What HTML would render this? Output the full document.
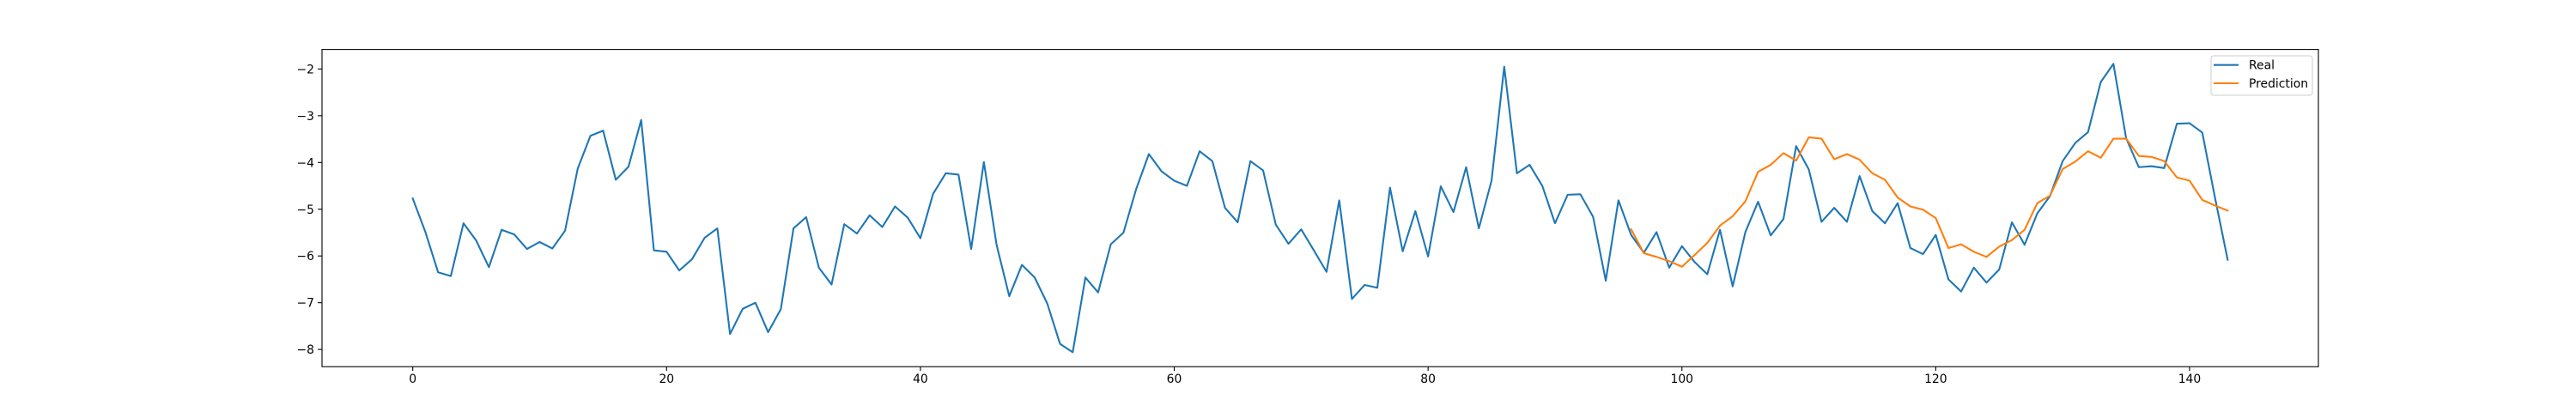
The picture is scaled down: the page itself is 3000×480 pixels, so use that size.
<!DOCTYPE html>
<html><head><meta charset="utf-8"><style>
html,body{margin:0;padding:0;background:#fff;}
svg{display:block;font-family:"DejaVu Sans","Liberation Sans",sans-serif;}
</style></head><body>
<svg id="chart" width="3000" height="480" viewBox="0 0 3000 480" xmlns="http://www.w3.org/2000/svg">
<rect width="3000" height="480" fill="#fff"/>
<g id="axes"></g>
</svg>
<script>
const realValues = [-4.77,-5.49,-6.35,-6.43,-5.30,-5.67,-6.24,-5.44,-5.54,-5.85,-5.70,-5.84,-5.46,-4.13,-3.43,-3.32,-4.37,-4.09,-3.09,-5.88,-5.91,-6.31,-6.07,-5.61,-5.41,-7.67,-7.13,-7.00,-7.63,-7.14,-5.41,-5.17,-6.25,-6.61,-5.32,-5.52,-5.13,-5.38,-4.94,-5.18,-5.62,-4.67,-4.23,-4.26,-5.85,-3.99,-5.76,-6.86,-6.19,-6.46,-7.02,-7.88,-8.06,-6.46,-6.78,-5.75,-5.50,-4.57,-3.82,-4.19,-4.39,-4.50,-3.76,-3.97,-4.97,-5.28,-3.97,-4.17,-5.33,-5.74,-5.43,-5.88,-6.34,-4.81,-6.92,-6.62,-6.68,-4.54,-5.90,-5.04,-6.01,-4.51,-5.06,-4.10,-5.41,-4.39,-1.95,-4.23,-4.05,-4.50,-5.30,-4.69,-4.68,-5.16,-6.53,-4.81,-5.55,-5.93,-5.49,-6.25,-5.79,-6.13,-6.39,-5.44,-6.65,-5.49,-4.84,-5.56,-5.21,-3.65,-4.15,-5.27,-4.97,-5.27,-4.29,-5.04,-5.30,-4.87,-5.83,-5.96,-5.55,-6.50,-6.76,-6.25,-6.57,-6.29,-5.28,-5.76,-5.09,-4.72,-3.97,-3.58,-3.35,-2.28,-1.89,-3.48,-4.10,-4.08,-4.12,-3.17,-3.16,-3.36,-4.75,-6.08];
const predStart = 96;
const predValues = [-5.43,-5.94,-6.02,-6.11,-6.23,-5.98,-5.72,-5.35,-5.15,-4.83,-4.20,-4.05,-3.80,-3.96,-3.46,-3.49,-3.93,-3.82,-3.94,-4.23,-4.37,-4.75,-4.94,-5.01,-5.19,-5.83,-5.75,-5.91,-6.02,-5.80,-5.66,-5.44,-4.87,-4.71,-4.14,-3.98,-3.76,-3.90,-3.49,-3.49,-3.86,-3.88,-3.97,-4.32,-4.39,-4.80,-4.92,-5.03];
const xTicks = [0,20,40,60,80,100,120,140];
const yTicks = [-2,-3,-4,-5,-6,-7,-8];
const seriesNames = ["Real","Prediction"];

const NS="http://www.w3.org/2000/svg";
const L=375,R=2700,T=57.6,B=427.2;
const n=realValues.length;
const xmin=-(n-1)*0.05, xmax=(n-1)*1.05;
const allV=realValues.concat(predValues);
const vmin=Math.min(...allV), vmax=Math.max(...allV), vr=vmax-vmin;
const ymin=vmin-0.05*vr, ymax=vmax+0.05*vr;
const sx=v=>L+(v-xmin)/(xmax-xmin)*(R-L);
const sy=v=>B-(v-ymin)/(ymax-ymin)*(B-T);
const g=document.getElementById('axes');
function mk(tag,attrs){const e=document.createElementNS(NS,tag);for(const k in attrs)e.setAttribute(k,attrs[k]);g.appendChild(e);return e;}

function linePath(vals,start){return vals.map((v,i)=>(i?'L':'M')+sx(start+i).toFixed(2)+','+sy(v).toFixed(2)).join('');}
const realLine=mk('path',{d:linePath(realValues,0),fill:'none',stroke:'#1f77b4','stroke-width':2.1,'stroke-linejoin':'round','stroke-linecap':'square'});


const predLine=mk('path',{d:linePath(predValues,predStart),fill:'none',stroke:'#ff7f0e','stroke-width':2.1,'stroke-linejoin':'round','stroke-linecap':'square'});



const frame=mk('rect',{x:L,y:T,width:R-L,height:B-T,fill:'none',stroke:'#000','stroke-width':1.1});



xTicks.forEach(t=>{
  const x=sx(t);
  const tk=mk('line',{x1:x,x2:x,y1:B,y2:B+4.9,stroke:'#000','stroke-width':1.1});
  
  
  const tx=mk('text',{x:x,y:446,'font-size':13.9,'text-anchor':'middle',fill:'#000'});
  tx.textContent=String(t);
  
  
});
yTicks.forEach(t=>{
  const y=sy(t);
  const tk=mk('line',{x1:L-4.9,x2:L,y1:y,y2:y,stroke:'#000','stroke-width':1.1});
  
  
  const tx=mk('text',{x:366,y:y+5,'font-size':13.9,'text-anchor':'end',fill:'#000'});
  tx.textContent='\u2212'+Math.abs(t);
  
  
});

const lg=mk('rect',{x:2575,y:65,width:118,height:46,rx:3,fill:'#fff','fill-opacity':0.8,stroke:'#ccc','stroke-width':1});


const colors=['#1f77b4','#ff7f0e'];
seriesNames.forEach((nm,i)=>{
  const y=75.7+i*21.3;
  const ln=mk('line',{x1:2578,x2:2607,y1:y,y2:y,stroke:colors[i],'stroke-width':2.1});
  
  
  const tx=mk('text',{x:2619,y:y+5,'font-size':13.9,fill:'#000'});
  tx.textContent=nm;
  
  
});
</script>
</body></html>
